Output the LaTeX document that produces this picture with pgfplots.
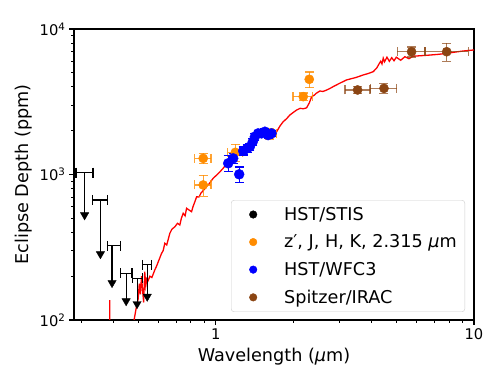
\documentclass[border=0pt]{standalone}
\usepackage{fontspec}
\setmainfont{DejaVu Sans}
\usepackage{pgfplots}
\pgfplotsset{compat=1.18}
\definecolor{dorange}{RGB}{255,140,0}
\definecolor{sbrown}{RGB}{139,69,19}
\begin{document}
\begin{tikzpicture}
\useasboundingbox (-74bp,-58bp) rectangle (428bp,320bp);
\begin{axis}[
  at={(0,0)}, anchor=south west,
  scale only axis, width=400bp, height=291bp,
  xmode=log, ymode=log,
  xmin=0.282, xmax=10, ymin=100, ymax=10000,
  xtick={1,10}, xticklabels={1,10},
  minor xtick={0.3,0.4,0.5,0.6,0.7,0.8,0.9,2,3,4,5,6,7,8,9},
  ytick={100,1000,10000},
  yticklabels={10\textsuperscript{2},10\textsuperscript{3},10\textsuperscript{4}},
  minor ytick={200,300,400,500,600,700,800,900,2000,3000,4000,5000,6000,7000,8000,9000},
  tick align=outside, tick pos=left,
  major tick length=5bp, minor tick length=3bp,
  every major tick/.style={black, line width=1.1bp},
  every minor tick/.style={black, line width=0.8bp},
  axis line style={line width=1.1bp},
  tick label style={font=\fontsize{14.75}{17}\selectfont},
  label style={font=\fontsize{17.7}{21}\selectfont},
  xlabel={Wavelength ({\itshape μ}m)},
  ylabel={Eclipse Depth (ppm)},
  xlabel style={at={(axis description cs:0.5,-0.095)}, anchor=north, inner sep=0pt},
  ylabel style={at={(axis description cs:-0.105,0.5)}, anchor=south, inner sep=0pt},
  unbounded coords=jump,
  legend cell align=left,
  legend style={at={(axis description cs:1,0)}, anchor=south east, xshift=-9bp, yshift=8bp,
    draw=black!20, rounded corners=3bp, fill=white,
    font=\fontsize{17.7}{21}\selectfont, row sep=9bp, inner xsep=6bp, inner ysep=5bp},
]
% model
\addplot[red, line width=1.3bp, forget plot] coordinates {
(0.388,137) (0.3885,60) (0.48,60) (0.482,100) (0.49,118) (0.50,140) (0.505,178) (0.51,150)
(0.515,200) (0.52,160) (0.525,132) (0.53,215) (0.535,172) (0.54,192) (0.546,186) (0.555,200)
(0.565,196) (0.58,221) (0.59,236) (0.60,255) (0.616,287) (0.625,300) (0.634,337) (0.645,328)
(0.663,394) (0.675,420) (0.694,438) (0.71,462) (0.725,450) (0.735,500) (0.747,541) (0.76,520)
(0.77,586) (0.785,572) (0.805,555) (0.815,600) (0.829,650) (0.842,703) (0.86,700) (0.875,745)
(0.89,770) (0.905,795) (0.92,830) (0.94,860) (0.96,905) (0.976,942) (1.0,980) (1.03,1030)
(1.067,1104) (1.1,1180) (1.15,1270) (1.2,1370) (1.25,1460) (1.3,1540) (1.35,1620) (1.4,1750)
(1.438,1820) (1.5,1880) (1.55,1900) (1.6,1890) (1.65,1910) (1.72,1968) (1.77,2150) (1.823,2306)
(1.88,2420) (1.935,2565) (2.0,2680) (2.055,2774) (2.12,2850) (2.18,2830) (2.245,2870) (2.3,3100)
(2.35,3428) (2.4,3500) (2.45,3620) (2.53,3750) (2.6,3720) (2.68,3800) (2.77,3909) (2.85,4020)
(3.02,4240) (3.21,4467) (3.5,4650) (3.72,4830) (3.9,4950) (4.07,5090) (4.2,5400) (4.3,5810)
(4.35,6000) (4.4,5750) (4.45,6300) (4.5,5950) (4.6,6400) (4.7,6000) (4.8,6350) (4.9,6050)
(5.0,6400) (5.2,6100) (5.4,6450) (5.6,6250) (5.8,6500) (6.2,6550) (6.74,6620) (7.3,6700)
(7.82,6800) (8.5,6950) (9.09,7060) (10,7180)
};
% HST/STIS upper limits
\addplot[black, line width=1.1bp, mark=|, mark size=5bp, mark options={solid}, forget plot] coordinates {
(0.287,1030) (0.334,1030) (0.31,nan)
(0.333,668) (0.379,668) (0.357,nan)
(0.380,323) (0.427,323) (0.396,nan)
(0.427,209) (0.473,209) (0.449,nan)
(0.474,194) (0.518,194) (0.495,nan)
(0.520,239) (0.565,239)
};
\addplot[black, line width=1.1bp, forget plot] coordinates {
(0.31,1030) (0.31,526) (0.31,nan)
(0.357,668) (0.357,284) (0.357,nan)
(0.396,323) (0.396,180) (0.396,nan)
(0.449,209) (0.449,135) (0.449,nan)
(0.495,194) (0.495,129) (0.495,nan)
(0.542,239) (0.542,145)
};
\addplot[black, only marks, mark=triangle*, mark size=4.8bp, mark options={rotate=180}, forget plot] coordinates {
(0.31,526) (0.357,284) (0.396,180) (0.449,135) (0.495,129) (0.542,145)
};
% orange
\addplot[dorange, only marks, mark=*, mark size=4.6bp, forget plot,
  error bars/.cd, x dir=both, x explicit, y dir=both, y explicit,
  error bar style={line width=1.3bp, dorange, opacity=0.8},
  error mark options={rotate=90, mark size=4.5bp, line width=1.3bp, dorange, opacity=0.8}]
table[x=x, y=y, x error minus=xm, x error plus=xp, y error minus=ym, y error plus=yp] {
x y xm xp ym yp
0.893 1291 0.065 0.065 105 105
0.893 847 0.065 0.065 140 140
1.19 1420 0.08 0.08 190 190
1.62 1900 0.10 0.10 150 150
2.18 3430 0.19 0.19 200 200
2.30 4510 0 0 560 560
};
% blue
\addplot[blue, only marks, mark=*, mark size=5bp, forget plot,
  error bars/.cd, y dir=both, y explicit,
  error bar style={line width=1.3bp, blue},
  error mark options={rotate=90, mark size=4.5bp, line width=1.3bp, blue}]
table[x=x, y=y, y error=e] {
x y e
1.116 1194 150
1.167 1291 100
1.231 1003 125
1.276 1452 90
1.322 1514 90
1.354 1552 90
1.39 1680 90
1.416 1820 100
1.458 1917 100
1.503 1917 100
1.549 1969 100
1.593 1866 100
1.643 1917 100
};
% brown
\addplot[sbrown, only marks, mark=*, mark size=4.6bp, forget plot,
  error bars/.cd, x dir=both, x explicit, y dir=both, y explicit,
  error bar style={line width=1.3bp, sbrown, opacity=0.7},
  error mark options={rotate=90, mark size=4.5bp, line width=1.3bp, sbrown, opacity=0.7}]
table[x=x, y=y, x error minus=xm, x error plus=xp, y error minus=ym, y error plus=yp] {
x y xm xp ym yp
3.54 3811 0.38 0.41 200 200
4.48 3909 0.51 0.53 300 300
5.73 6980 0.69 0.73 560 560
7.84 6980 1.38 1.66 1000 1000
};
\addlegendimage{legend image code/.code={\path[draw=none,fill=none] (0bp,0bp) -- (45bp,0bp); \fill[black] (16bp,0bp) circle[radius=3.8bp];}}
\addlegendentry{HST/STIS}
\addlegendimage{legend image code/.code={\path[draw=none,fill=none] (0bp,0bp) -- (45bp,0bp); \fill[dorange] (16bp,0bp) circle[radius=3.8bp];}}
\addlegendentry{z′, J, H, K, 2.315 {\itshape μ}m}
\addlegendimage{legend image code/.code={\path[draw=none,fill=none] (0bp,0bp) -- (45bp,0bp); \fill[blue] (16bp,0bp) circle[radius=3.8bp];}}
\addlegendentry{HST/WFC3}
\addlegendimage{legend image code/.code={\path[draw=none,fill=none] (0bp,0bp) -- (45bp,0bp); \fill[sbrown] (16bp,0bp) circle[radius=3.8bp];}}
\addlegendentry{Spitzer/IRAC}
\end{axis}
\end{tikzpicture}
\end{document}
